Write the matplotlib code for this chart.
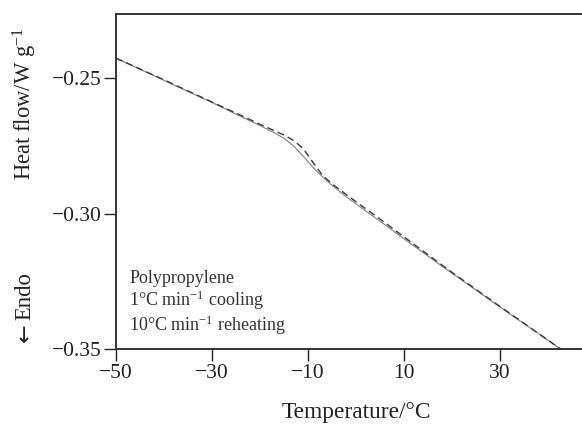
import numpy as np
import matplotlib
matplotlib.use('Agg')
import matplotlib.pyplot as plt

plt.rcParams['font.family'] = ['Liberation Serif', 'DejaVu Serif']
plt.rcParams['mathtext.fontset'] = 'custom'
plt.rcParams['mathtext.rm'] = 'Liberation Serif'
plt.rcParams['mathtext.it'] = 'Liberation Serif:italic'

# DSC traces, temperature in degC, heat flow in W/g
temp = [-50, -40, -30, -20, -17, -15, -13, -11, -9, -7, -5, -2, 2, 5, 10, 15, 20, 30, 40, 44]
hf_reheat = [-0.2426, -0.2508, -0.2590, -0.2675, -0.2702, -0.2722, -0.2750, -0.2788, -0.2828,
             -0.2864, -0.2896, -0.2938, -0.2990, -0.3028, -0.3093, -0.3157, -0.3220, -0.3345,
             -0.3468, -0.3517]
hf_cool = [-0.2426, -0.2506, -0.2588, -0.2670, -0.2694, -0.2710, -0.2730, -0.2760, -0.2810,
           -0.2858, -0.2890, -0.2930, -0.2982, -0.3020, -0.3086, -0.3152, -0.3217, -0.3343,
           -0.3467, -0.3517]

xticks = [-50, -30, -10, 10, 30]
yticks = [-0.35, -0.30, -0.25]

fig = plt.figure(figsize=(5.82, 4.24), dpi=100)
ax = fig.add_axes([116/582, 75/424, 480/582, 335/424])

ax.plot(temp, hf_reheat, color='#8a8a8a', lw=0.9)
ax.plot(temp, hf_cool, color='#3a3a3a', lw=1.0, ls=(0, (5, 3)))

ax.set_xlim(-50, 50)
ax.set_ylim(-0.35, -0.2263)
ax.set_xticks(xticks)
ax.set_yticks(yticks)
ax.set_yticklabels(['\u22120.35', '\u22120.30', '\u22120.25'])
ax.set_xticklabels(['\u221250', '\u221230', '\u221210', '10', '30'])
ax.tick_params(direction='out', length=8.5, width=1, labelsize=15.5, colors='#222222', pad=2)

for s in ax.spines.values():
    s.set_linewidth(1.4)
    s.set_color('#333333')

ax.set_xlabel('Temperature/\u00b0C', fontsize=16.8, color='#222222', labelpad=14)

fig.text(25/582, 1 - 104/424, 'Heat flow/W g$^{-1}$', rotation=90, fontsize=16.3,
         color='#222222', ha='center', va='center')
# endotherm direction: arrow drawn in DejaVu (bigger glyph), word in the serif face
fig.text(25/582, 1 - 333/424, '\u2190', rotation=90, fontsize=16,
         color='#222222', ha='center', va='center', family='DejaVu Sans')
fig.text(25/582, 1 - 296/424, 'Endo', rotation=90, fontsize=16.3,
         color='#222222', ha='center', va='center')

ax.text(0.028, 0.237, 'Polypropylene\n1\u00b0C min$^{-1}$ cooling\n10\u00b0C min$^{-1}$ reheating',
        transform=ax.transAxes, fontsize=13, color='#333333', va='top', ha='left',
        linespacing=1.1)

fig.savefig('out.png', dpi=100)
